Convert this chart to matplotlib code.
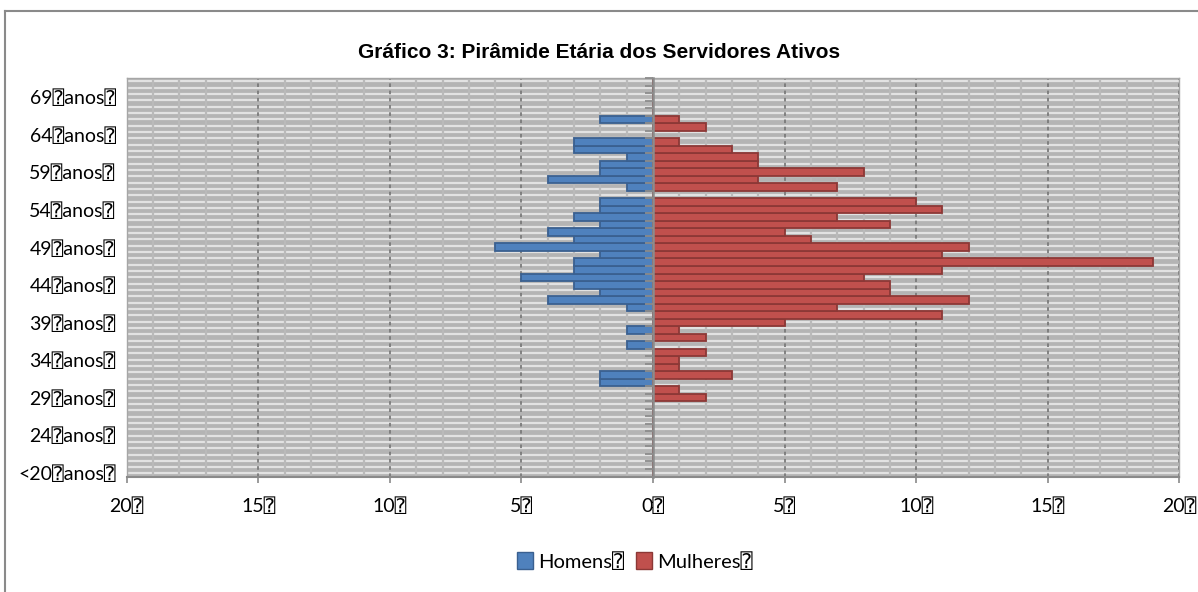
import numpy as np
import matplotlib.pyplot as plt
from matplotlib.patches import Patch
from matplotlib.lines import Line2D

# categorias (faixa etaria), de baixo para cima: <20, 20, 21, ..., 71
idades = ['<20'] + [str(a) for a in range(20, 72)]

# servidores ativos por idade (mesma ordem das idades)
homens = [0,
          0, 0, 0, 0, 0, 0, 0, 0, 0, 0,      # 20-29
          0, 2, 2, 0, 0, 0, 1, 0, 1, 0,      # 30-39
          0, 1, 4, 2, 3, 5, 3, 3, 2, 6,      # 40-49
          3, 4, 2, 3, 2, 2, 0, 1, 4, 2,      # 50-59
          2, 1, 3, 3, 0, 0, 2, 0, 0, 0,      # 60-69
          0, 0]                              # 70-71
mulheres = [0,
            0, 0, 0, 0, 0, 0, 0, 0, 0, 2,     # 20-29
            1, 0, 3, 1, 1, 2, 0, 2, 1, 5,     # 30-39
            11, 7, 12, 9, 9, 8, 11, 19, 11, 12,  # 40-49
            6, 5, 9, 7, 11, 10, 0, 7, 4, 8,   # 50-59
            4, 4, 3, 1, 0, 2, 1, 0, 0, 0,     # 60-69
            0, 0]                             # 70-71

x_ticks = [-20, -15, -10, -5, 0, 5, 10, 15, 20]
caixa = '\u2370'  # o quadradinho que aparece no original

plt.rcParams['font.family'] = ['Lato', 'DejaVu Sans Mono', 'DejaVu Sans']

fig = plt.figure(figsize=(11.98, 5.92), dpi=100)
ax = fig.add_axes([0.1058, 0.1951, 0.8786, 0.6731])

y = np.arange(len(idades))
ax.set_xlim(-20, 20)
ax.set_ylim(-0.5, len(idades) - 0.5)

# fundo com padrao de tracos horizontais
ax.set_facecolor('#b4b4b4')
linhas = np.linspace(-0.5, len(idades) - 0.5, 64)[:-1] + 0.4
ax.hlines(linhas, -20, 20, colors='#e2e2e2', lw=1.6, zorder=0.2)

ax.set_axisbelow(True)
ax.set_xticks(np.arange(-20, 21, 1), minor=True)
ax.grid(which='minor', axis='x', color='#bababa', lw=1.6)
ax.grid(which='major', axis='x', color='#7a7a7a', lw=1.3, ls=(0, (2, 2)))

ax.barh(y, -np.array(homens), height=1.0, color='#4f81bd',
        edgecolor='#3a6090', lw=1.3)
ax.barh(y, mulheres, height=1.0, color='#c0504d',
        edgecolor='#8c3836', lw=1.3)

ax.set_xticks(x_ticks)
ax.set_xticklabels([f'{abs(v)}{caixa}' for v in x_ticks], fontsize=14)
ax.tick_params(axis='x', which='major', length=4, width=1.2, color='#8a8a8a', pad=11)
ax.tick_params(axis='x', which='minor', length=0)

ax.set_yticks(y[::5])
ax.set_yticklabels([f'{idades[i]}{caixa}anos{caixa}' for i in y[::5]], fontsize=14)
ax.tick_params(axis='y', length=0, pad=8)

for s in ['top', 'right', 'left']:
    ax.spines[s].set_color('#a6a6a6')
    ax.spines[s].set_linewidth(1.0)
ax.spines['bottom'].set_color('#8a8a8a')
ax.spines['bottom'].set_linewidth(1.5)

# eixo vertical no zero com marcas entre as categorias
eixo = ax.secondary_yaxis(0.5)
eixo.set_alignment('left')
eixo.set_zorder(5)
eixo.set_yticks(np.arange(-0.5, len(idades), 1))
eixo.set_yticklabels([])
eixo.tick_params(axis='y', direction='out', length=5.5, width=1.3, color='#8c8c8c',
                 labelleft=False, labelright=False)
eixo.spines['left'].set_color('#8c8c8c')
eixo.spines['left'].set_linewidth(1.8)

fig.text(0.5, 0.912, 'Gráfico 3: Pirâmide Etária dos Servidores Ativos',
         ha='center', va='center', fontsize=15, fontweight='bold',
         family=['Liberation Sans', 'DejaVu Sans'])

fig.legend(handles=[Patch(facecolor='#4f81bd', edgecolor='#3a6090', label='Homens' + caixa),
                    Patch(facecolor='#c0504d', edgecolor='#8c3836', label='Mulheres' + caixa)],
           loc='center', bbox_to_anchor=(0.53, 0.052), ncol=2, frameon=False,
           fontsize=14.5, handlelength=0.8, handleheight=0.9,
           handletextpad=0.25, columnspacing=0.6)

# moldura do grafico (continua para fora da imagem)
fig.add_artist(Line2D([5 / 1198, 5 / 1198], [0, 1 - 11 / 592], color='#8a8a8a', lw=1.5))
fig.add_artist(Line2D([5 / 1198, 1], [1 - 11 / 592, 1 - 11 / 592], color='#8a8a8a', lw=1.5))

fig.savefig('out.png', dpi=100)
